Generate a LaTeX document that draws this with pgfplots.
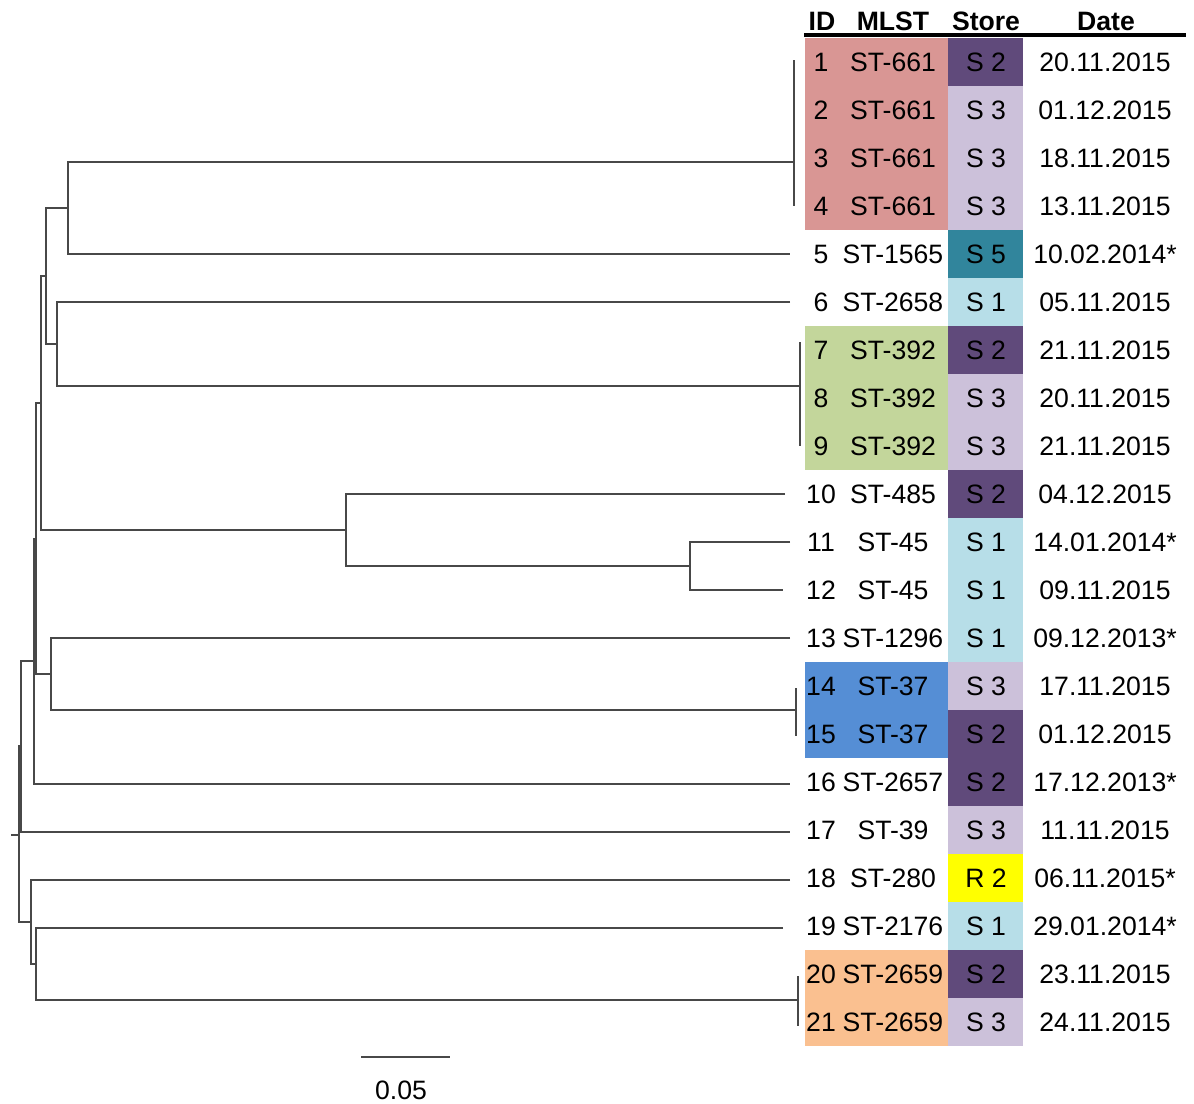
\documentclass[border=0pt]{standalone}
\usepackage{fontspec}
\setmainfont{Liberation Sans}
\usepackage{pgfplots}
\pgfplotsset{compat=1.18}
\usepackage{pgfplotstable}
\definecolor{cpink}{HTML}{D99694}
\definecolor{cgreen}{HTML}{C3D69B}
\definecolor{cblue}{HTML}{558ED5}
\definecolor{corange}{HTML}{FAC090}
\definecolor{sone}{HTML}{B7DEE8}
\definecolor{stwo}{HTML}{604A7B}
\definecolor{sthree}{HTML}{CCC1DA}
\definecolor{sfive}{HTML}{31859C}
\definecolor{rtwo}{HTML}{FFFF00}
\definecolor{treec}{HTML}{484848}

\pgfplotstableread[col sep=comma]{
x,y,label
821,62,1
821,110,2
821,158,3
821,206,4
821,254,5
821,302,6
821,350,7
821,398,8
821,446,9
821,494,10
821,542,11
821,590,12
821,638,13
821,686,14
821,734,15
821,782,16
821,830,17
821,878,18
821,926,19
821,974,20
821,1022,21
}\idtable

\pgfplotstableread[col sep=comma]{
x,y,label
893,62,ST-661
893,110,ST-661
893,158,ST-661
893,206,ST-661
893,254,ST-1565
893,302,ST-2658
893,350,ST-392
893,398,ST-392
893,446,ST-392
893,494,ST-485
893,542,ST-45
893,590,ST-45
893,638,ST-1296
893,686,ST-37
893,734,ST-37
893,782,ST-2657
893,830,ST-39
893,878,ST-280
893,926,ST-2176
893,974,ST-2659
893,1022,ST-2659
}\mlsttable

\pgfplotstableread[col sep=comma]{
x,y,label
986,62,S 2
986,110,S 3
986,158,S 3
986,206,S 3
986,254,S 5
986,302,S 1
986,350,S 2
986,398,S 3
986,446,S 3
986,494,S 2
986,542,S 1
986,590,S 1
986,638,S 1
986,686,S 3
986,734,S 2
986,782,S 2
986,830,S 3
986,878,R 2
986,926,S 1
986,974,S 2
986,1022,S 3
}\storetable

\pgfplotstableread[col sep=comma]{
x,y,label
1105,62,20.11.2015
1105,110,01.12.2015
1105,158,18.11.2015
1105,206,13.11.2015
1105,254,10.02.2014*
1105,302,05.11.2015
1105,350,21.11.2015
1105,398,20.11.2015
1105,446,21.11.2015
1105,494,04.12.2015
1105,542,14.01.2014*
1105,590,09.11.2015
1105,638,09.12.2013*
1105,686,17.11.2015
1105,734,01.12.2015
1105,782,17.12.2013*
1105,830,11.11.2015
1105,878,06.11.2015*
1105,926,29.01.2014*
1105,974,23.11.2015
1105,1022,24.11.2015
}\datetable

\pgfplotstableread[col sep=comma]{
x,y,label
822,21,ID
893,21,MLST
986,21,Store
1106,21,Date
}\headtable

\begin{document}
\begin{tikzpicture}
\begin{axis}[
  width=597pt, height=551.5pt, scale only axis,
  xmin=0, xmax=1194, ymin=0, ymax=1103,
  y dir=reverse,
  hide axis, clip=false,
  tree/.style={draw=treec, line width=0.7pt, mark=none},
  lbl/.style={draw=none, mark=none, nodes near coords, point meta=explicit symbolic,
    nodes near coords style={anchor=center, inner sep=0pt, text=black,
      font=\fontsize{13.3}{15}\selectfont, text height=9.5pt, text depth=0pt}},
]
% bounding frame (invisible)
\addplot[draw=none, mark=none] coordinates {(0,0) (1194,1103)};

% ID / MLST coloured cells
\addplot[fill=cpink, draw=none] coordinates {(805,38) (948,38) (948,230) (805,230)};
\addplot[fill=cgreen, draw=none] coordinates {(805,326) (948,326) (948,470) (805,470)};
\addplot[fill=cblue, draw=none] coordinates {(805,662) (948,662) (948,758) (805,758)};
\addplot[fill=corange, draw=none] coordinates {(805,950) (948,950) (948,1046) (805,1046)};

% Store cells
\addplot[fill=stwo, draw=none] coordinates {(948,38) (1023,38) (1023,86) (948,86)};
\addplot[fill=sthree, draw=none] coordinates {(948,86) (1023,86) (1023,230) (948,230)};
\addplot[fill=sfive, draw=none] coordinates {(948,230) (1023,230) (1023,278) (948,278)};
\addplot[fill=sone, draw=none] coordinates {(948,278) (1023,278) (1023,326) (948,326)};
\addplot[fill=stwo, draw=none] coordinates {(948,326) (1023,326) (1023,374) (948,374)};
\addplot[fill=sthree, draw=none] coordinates {(948,374) (1023,374) (1023,470) (948,470)};
\addplot[fill=stwo, draw=none] coordinates {(948,470) (1023,470) (1023,518) (948,518)};
\addplot[fill=sone, draw=none] coordinates {(948,518) (1023,518) (1023,662) (948,662)};
\addplot[fill=sthree, draw=none] coordinates {(948,662) (1023,662) (1023,710) (948,710)};
\addplot[fill=stwo, draw=none] coordinates {(948,710) (1023,710) (1023,806) (948,806)};
\addplot[fill=sthree, draw=none] coordinates {(948,806) (1023,806) (1023,854) (948,854)};
\addplot[fill=rtwo, draw=none] coordinates {(948,854) (1023,854) (1023,902) (948,902)};
\addplot[fill=sone, draw=none] coordinates {(948,902) (1023,902) (1023,950) (948,950)};
\addplot[fill=stwo, draw=none] coordinates {(948,950) (1023,950) (1023,998) (948,998)};
\addplot[fill=sthree, draw=none] coordinates {(948,998) (1023,998) (1023,1046) (948,1046)};

% header rule
\addplot[draw=black, line width=2.3pt, mark=none] coordinates {(804,35) (1186,35)};

% tree
\addplot[tree] coordinates {(794,162) (68,162) (68,254) (790,254)};
\addplot[tree] coordinates {(794,60) (794,206)};
\addplot[tree] coordinates {(790,302) (57,302) (57,386) (800,386)};
\addplot[tree] coordinates {(800,342) (800,446)};
\addplot[tree] coordinates {(68,208) (46,208) (46,344) (57,344)};
\addplot[tree] coordinates {(790,542) (690,542) (690,590) (783,590)};
\addplot[tree] coordinates {(785,494) (346,494) (346,566) (690,566)};
\addplot[tree] coordinates {(46,276) (41,276) (41,530) (346,530)};
\addplot[tree] coordinates {(790,638) (51,638) (51,710) (796,710)};
\addplot[tree] coordinates {(796,688) (796,736)};
\addplot[tree] coordinates {(41,403) (36,403) (36,674) (51,674)};
\addplot[tree] coordinates {(36,538.5) (34,538.5) (34,784) (790,784)};
\addplot[tree] coordinates {(34,661) (21,661) (21,832) (790,832)};
\addplot[tree] coordinates {(783,928) (36,928) (36,1000) (798,1000)};
\addplot[tree] coordinates {(798,976) (798,1026)};
\addplot[tree] coordinates {(790,880) (31,880) (31,964) (36,964)};
\addplot[tree] coordinates {(21,746) (19,746) (19,922) (31,922)};
\addplot[tree] coordinates {(11,835) (19,835)};

% scale bar
\addplot[tree] coordinates {(361,1057) (450,1057)};
\node[font=\fontsize{13.3}{15}\selectfont, anchor=center, inner sep=0pt, text height=9.5pt, text depth=0pt] at (axis cs:401,1090) {0.05};

% labels
\addplot[lbl] table[x=x, y=y, meta=label] {\idtable};
\addplot[lbl] table[x=x, y=y, meta=label] {\mlsttable};
\addplot[lbl] table[x=x, y=y, meta=label] {\storetable};
\addplot[lbl] table[x=x, y=y, meta=label] {\datetable};
\addplot[lbl, nodes near coords style={font=\fontsize{13.3}{15}\selectfont\bfseries}] table[x=x, y=y, meta=label] {\headtable};
\end{axis}
\end{tikzpicture}
\end{document}
